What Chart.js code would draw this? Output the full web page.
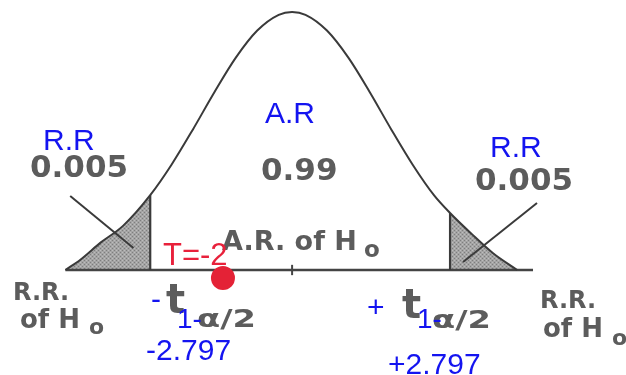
<!DOCTYPE html>
<html>
<head>
<meta charset="utf-8">
<script src="https://cdn.jsdelivr.net/npm/chart.js@4.4.1/dist/chart.umd.min.js"></script>
<style>
  html, body { margin: 0; padding: 0; background: #fff; }
  #chartBase { display: block; }
</style>
</head>
<body>
<canvas id="chartBase" width="626" height="375"></canvas>
<script>
// curve: x in t units, height relative to the peak
const curveX = [-4.38, -4.1, -3.73, -3.3, -2.797, -2.4, -2.0, -1.6, -1.2, -0.8, -0.4, -0.15,
  0.1, 0.5, 0.9, 1.3, 1.7, 2.1, 2.5, 2.797, 3.2, 3.6, 4.05];
const curveY = [0, 0.04, 0.105, 0.172, 0.29, 0.408, 0.545, 0.689, 0.823, 0.928, 0.989, 1.0,
  0.989, 0.928, 0.823, 0.689, 0.545, 0.408, 0.289, 0.221, 0.14, 0.065, 0];

const critValues = [-2.797, 2.797];
const axisEnds = [-4.38, 4.345];
const centerTick = -0.15;

// test statistic T = -2, placed where the picture puts it
const testX = [-1.44];
const testY = [-0.031];

// pointer strokes from the 0.005 labels into the tails
const pointerLeft = [{ x: -4.29, y: 0.287 }, { x: -3.11, y: 0.085 }];
const pointerRight = [{ x: 4.42, y: 0.26 }, { x: 3.04, y: 0.031 }];

const grayTexts = [
  { t: "0.005", x: 30, y: 177, size: 31 },
  { t: "0.99", x: 261, y: 180, size: 31 },
  { t: "0.005", x: 475, y: 190, size: 31 },
  { t: "A.R. of H", x: 222, y: 250, size: 27 },
  { t: "o", x: 364, y: 257, size: 23 },
  { t: "R.R.", x: 13, y: 300, size: 24 },
  { t: "of H", x: 20, y: 328, size: 26 },
  { t: "o", x: 89, y: 334, size: 22 },
  { t: "R.R.", x: 540, y: 308, size: 24 },
  { t: "of H", x: 543, y: 337, size: 26 },
  { t: "o", x: 612, y: 345, size: 22 },
  { t: "t", x: 166, y: 313, size: 40 },
  { t: "\u03b1/2", x: 197, y: 327, size: 25, sx: 1.35 },
  { t: "t", x: 402, y: 318, size: 40 },
  { t: "\u03b1/2", x: 432, y: 328, size: 25, sx: 1.35 }
];

const blueTexts = [
  { t: "R.R", x: 43, y: 150, size: 30 },
  { t: "A.R", x: 265, y: 123, size: 30 },
  { t: "R.R", x: 490, y: 157, size: 30 },
  { t: "-", x: 151, y: 309, size: 30 },
  { t: "1-", x: 177, y: 328, size: 28 },
  { t: "-2.797", x: 146, y: 360, size: 30 },
  { t: "+", x: 367, y: 317, size: 30 },
  { t: "1-", x: 417, y: 328, size: 28 },
  { t: "+2.797", x: 388, y: 374, size: 30 }
];

const redTexts = [
  { t: "T=-2", x: 163, y: 265, size: 31 }
];

function puntos(xs, ys) {
  const out = [];
  for (let i = 0; i < xs.length; i++) out.push({ x: xs[i], y: ys[i] });
  return out;
}

function alturaEn(x) {
  return curveY[curveX.indexOf(x)];
}

function tramaGris() {
  const c = document.createElement("canvas");
  c.width = 4;
  c.height = 4;
  const g = c.getContext("2d");
  g.fillStyle = "#a4a4a4";
  g.fillRect(0, 0, 4, 4);
  g.fillStyle = "#7e7e7e";
  g.fillRect(0, 0, 1, 1);
  g.fillRect(2, 2, 1, 1);
  g.fillStyle = "#bdbdbd";
  g.fillRect(2, 0, 1, 1);
  g.fillRect(0, 2, 1, 1);
  return g.createPattern(c, "repeat");
}

function pintarTextos(ctx, list, family, weight, color, blur) {
  ctx.save();
  ctx.fillStyle = color;
  ctx.textBaseline = "alphabetic";
  ctx.textAlign = "left";
  if (blur) ctx.filter = "blur(" + blur + "px)";
  for (let i = 0; i < list.length; i++) {
    const it = list[i];
    ctx.font = weight + " " + it.size + "px " + family;
    ctx.save();
    ctx.translate(it.x, it.y);
    if (it.sx) ctx.scale(it.sx, 1);
    ctx.fillText(it.t, 0, 0);
    ctx.restore();
  }
  ctx.restore();
}

const textos = {
  id: "textos",
  afterDraw: function (chart) {
    const ctx = chart.ctx;
    pintarTextos(ctx, grayTexts, "'DejaVu Sans'", "bold", "#5c5c5c", 0.7);
    pintarTextos(ctx, blueTexts, "'Liberation Sans', Arial", "normal", "#1414f0", 0);
    pintarTextos(ctx, redTexts, "'Liberation Sans', Arial", "normal", "#e8213b", 0);
  }
};

const curva = puntos(curveX, curveY);
const colaIzq = curva.filter(function (p) { return p.x <= critValues[0]; });
const colaDer = curva.filter(function (p) { return p.x >= critValues[1]; });
const trama = tramaGris();
const linea = "#3a3a3a";

const datasets = [
  { data: puntos(testX, testY), showLine: false, pointRadius: 12, pointBackgroundColor: "#e42236", pointBorderWidth: 0 },
  { data: pointerLeft, borderColor: linea, borderWidth: 2, pointRadius: 0 },
  { data: pointerRight, borderColor: linea, borderWidth: 2, pointRadius: 0 },
  { data: [{ x: critValues[0], y: 0 }, { x: critValues[0], y: alturaEn(critValues[0]) }], borderColor: linea, borderWidth: 2.2, pointRadius: 0 },
  { data: [{ x: critValues[1], y: 0 }, { x: critValues[1], y: alturaEn(critValues[1]) }], borderColor: linea, borderWidth: 2.2, pointRadius: 0 },
  { data: curva, borderColor: linea, borderWidth: 2, pointRadius: 0, cubicInterpolationMode: "monotone" },
  { data: [{ x: axisEnds[0], y: 0 }, { x: axisEnds[1], y: 0 }], borderColor: "#444", borderWidth: 2.5, pointRadius: 0 },
  { data: [{ x: centerTick, y: -0.02 }, { x: centerTick, y: 0.02 }], borderColor: "#444", borderWidth: 2, pointRadius: 0 },
  { data: colaIzq, borderWidth: 0, pointRadius: 0, fill: "origin", backgroundColor: trama, cubicInterpolationMode: "monotone" },
  { data: colaDer, borderWidth: 0, pointRadius: 0, fill: "origin", backgroundColor: trama, cubicInterpolationMode: "monotone" }
];

new Chart(document.getElementById("chartBase").getContext("2d"), {
  type: "scatter",
  data: { datasets: datasets.map(function (d) { d.showLine = d.showLine !== false; return d; }) },
  options: {
    responsive: false,
    animation: false,
    devicePixelRatio: 1,
    layout: { padding: 0, autoPadding: false },
    plugins: { legend: { display: false }, tooltip: { enabled: false } },
    scales: {
      x: { type: "linear", display: false, min: -5.6, max: 6.08 },
      y: { type: "linear", display: false, min: -0.407, max: 1.0465 }
    }
  },
  plugins: [textos]
});
</script>
</body>
</html>
